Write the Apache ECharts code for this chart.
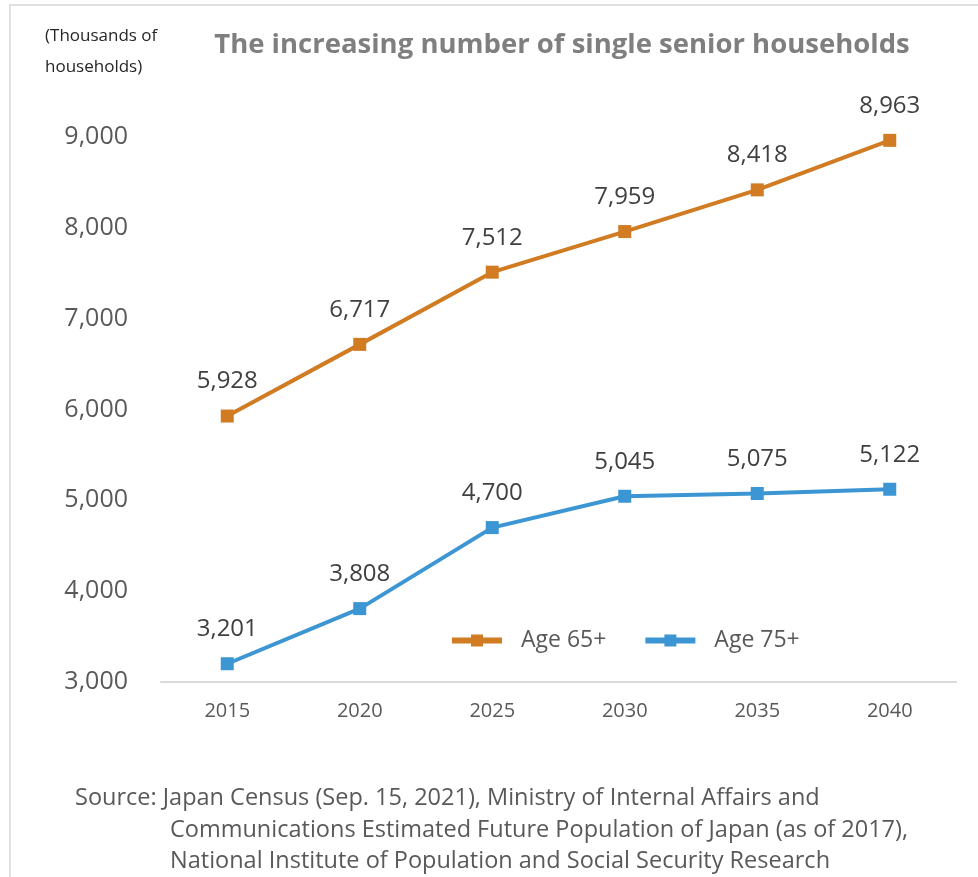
<!DOCTYPE html>
<html>
<head>
<meta charset="utf-8">
<script src="https://cdn.jsdelivr.net/npm/echarts@6/dist/echarts.min.js"></script>
<style>
  html, body { margin: 0; padding: 0; background: #fff; }
  #chart { width: 978px; height: 877px; }
</style>
</head>
<body>
<div id="chart"></div>
<script>
var years = ['2015', '2020', '2025', '2030', '2035', '2040'];
var age65 = [5928, 6717, 7512, 7959, 8418, 8963];
var age75 = [3201, 3808, 4700, 5045, 5075, 5122];
var seriesNames = ['Age 65+', 'Age 75+'];
var sourceLines = [
  'Source: Japan Census (Sep. 15, 2021), Ministry of Internal Affairs and',
  'Communications Estimated Future Population of Japan (as of 2017),',
  'National Institute of Population and Social Security Research'
];

var font = '"Open Sans", "Noto Sans", sans-serif';
var chart = echarts.init(document.getElementById('chart'));

function fmt(v) { return v.toLocaleString('en-US'); }

function makeSeries(name, data, color) {
  return {
    name: name,
    type: 'line',
    data: data,
    symbol: 'rect',
    symbolSize: 13,
    lineStyle: { width: 4, color: color },
    itemStyle: { color: color },
    label: {
      show: true,
      position: 'top',
      distance: 16,
      fontFamily: font,
      fontSize: 24,
      color: '#404040',
      formatter: function (p) { return fmt(p.value); }
    },
    animation: false
  };
}

chart.setOption({
  backgroundColor: '#fff',
  title: {
    text: 'The increasing number of single senior households',
    left: 557,
    textAlign: 'center',
    top: 26,
    textStyle: { fontFamily: font, fontSize: 27.5, fontWeight: 'bold', color: '#7f7f7f' }
  },
  legend: {
    data: seriesNames,
    left: 444,
    top: 624,
    itemWidth: 50,
    itemHeight: 15,
    itemGap: 36,
    lineStyle: { width: 6 },
    textStyle: { fontFamily: font, fontSize: 23, color: '#595959', padding: [0, 0, 0, 14] }
  },
  grid: { left: 161, right: 22, top: 137, bottom: 195 },
  xAxis: {
    type: 'category',
    data: years,
    boundaryGap: true,
    axisLine: { lineStyle: { color: '#d9d9d9', width: 2 } },
    axisTick: { show: false },
    axisLabel: { fontFamily: font, fontSize: 20, color: '#595959', margin: 19 }
  },
  yAxis: {
    type: 'value',
    min: 3000,
    max: 9000,
    interval: 1000,
    splitLine: { show: false },
    axisLine: { show: false },
    axisTick: { show: false },
    axisLabel: {
      fontFamily: font, fontSize: 25, color: '#595959', margin: 33,
      formatter: function (v) { return fmt(v); }
    }
  },
  series: [
    makeSeries(seriesNames[0], age65, '#d17b22'),
    makeSeries(seriesNames[1], age75, '#3d96d4')
  ],
  graphic: [
    {
      type: 'rect',
      shape: { x: 10, y: 5, width: 980, height: 900 },
      style: { fill: 'none', stroke: '#e0e0e0', lineWidth: 2 },
      silent: true
    },
    {
      type: 'text', left: 45, top: 21,
      style: {
        text: '(Thousands of\nhouseholds)', fontFamily: font, fontSize: 17,
        lineHeight: 31, fill: '#262626'
      }
    },
    {
      type: 'text', left: 75, top: 786,
      style: { text: sourceLines[0], fontFamily: font, fontSize: 23.5, fill: '#595959' }
    },
    {
      type: 'text', left: 170, top: 818,
      style: { text: sourceLines[1], fontFamily: font, fontSize: 23.5, fill: '#595959' }
    },
    {
      type: 'text', left: 170, top: 849,
      style: { text: sourceLines[2], fontFamily: font, fontSize: 23.5, fill: '#595959' }
    }
  ]
});
</script>
</body>
</html>
